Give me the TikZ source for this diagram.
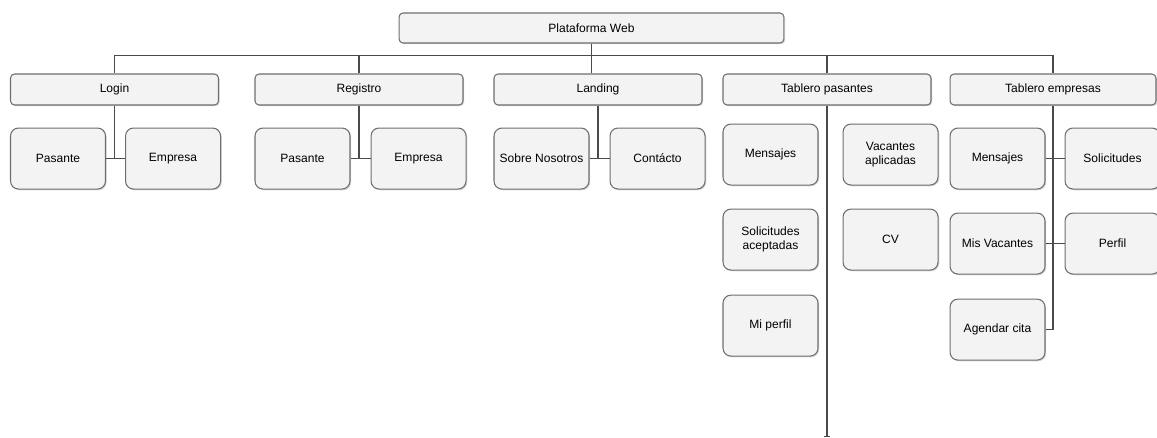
\documentclass[tikz,border=0pt]{standalone}
\usepackage{fontspec}
\setmainfont{Liberation Sans}
\usetikzlibrary{positioning}
\usetikzlibrary{shadows}
\usetikzlibrary{arrows.meta}
\definecolor{borde}{HTML}{6E6E6E}
\definecolor{relleno}{HTML}{F3F3F3}
\definecolor{trazo}{HTML}{4A4A4A}
\tikzset{
	caja/.style={rectangle, draw=borde, fill=relleno, line width=0.6pt, align=center,
		font=\fontsize{6.85}{8.2}\selectfont,
		drop shadow={shadow xshift=0.7pt, shadow yshift=-0.7pt, opacity=0.3}},
	raiz/.style={caja, rounded corners=2.3pt, minimum width=7.7cm, minimum height=0.6cm},
	seccion/.style={caja, rounded corners=2.3pt, minimum width=4.16cm, minimum height=0.62cm},
	opcion/.style={caja, rounded corners=4.5pt, minimum width=1.9cm, minimum height=1.22cm, inner sep=1pt},
	linea/.style={draw=trazo, line width=0.6pt}
}
\begin{document}
\begin{tikzpicture}[x=0.02cm, y=-0.02cm]
\useasboundingbox (0,0) rectangle (1157,438);

\node[raiz] (web) at (591.5,28) {Plataforma Web};

\node[seccion] (login) at (114.5,89.5) {Login};
\node[seccion] (registro) at (359,89.5) {Registro};
\node[seccion] (landing) at (598,89.5) {Landing};
\node[seccion] (tpasantes) at (827,89.5) {Tablero pasantes};
\node[seccion, minimum width=4.12cm] (tempresas) at (1053,89.5) {Tablero empresas};

\node[opcion, below right=0.44cm and 0cm of login.south west] (lpasante) {Pasante};
\node[opcion, right=0.38cm of lpasante] (lempresa) {Empresa};

\node[opcion, below right=0.44cm and 0cm of registro.south west] (rpasante) {Pasante};
\node[opcion, right=0.4cm of rpasante] (rempresa) {Empresa};

\node[opcion, below right=0.44cm and 0cm of landing.south west] (sobre) {Sobre Nosotros};
\node[opcion, right=0.4cm of sobre] (contacto) {Contácto};

\node[opcion, below right=0.36cm and 0cm of tpasantes.south west] (pmensajes) {Mensajes};
\node[opcion, right=0.48cm of pmensajes] (pvacantes) {Vacantes\\aplicadas};
\node[opcion, below=0.46cm of pmensajes] (psolicitudes) {Solicitudes\\aceptadas};
\node[opcion, below=0.48cm of psolicitudes] (pperfil) {Mi perfil};
\node[opcion, below=0.46cm of pvacantes] (pcv) {CV};

\node[opcion, below right=0.44cm and 0cm of tempresas.south west] (emensajes) {Mensajes};
\node[opcion, right=0.38cm of emensajes] (esolicitudes) {Solicitudes};
\node[opcion, below=0.46cm of emensajes] (evacantes) {Mis Vacantes};
\node[opcion, below=0.48cm of evacantes] (ecita) {Agendar cita};
\node[opcion, below=0.46cm of esolicitudes] (eperfil) {Perfil};

\coordinate[below=0.24cm of web.south] (bus);
\coordinate[below=6.64cm of tpasantes.south] (fin);

\draw[linea] (web.south) -- (web.south |- landing.north);
\foreach \s in {login,registro,tpasantes,tempresas}
	\draw[linea] (bus) -| (\s.north);

\draw[linea] (login.south) -- (login.south |- lpasante.east);
\draw[linea] (lpasante) -- (lempresa);
\draw[linea] (registro.south) -- (registro.south |- rpasante.east);
\draw[linea] (rpasante) -- (rempresa);
\draw[linea] (landing.south) -- (landing.south |- sobre.east);
\draw[linea] (sobre) -- (contacto);

\draw[linea, -{Bar[width=3pt]}] (tpasantes.south) -- (fin);

\draw[linea] (tempresas.south) |- (ecita.east);
\draw[linea] (emensajes) -- (esolicitudes);
\draw[linea] (evacantes) -- (eperfil);

\end{tikzpicture}
\end{document}
